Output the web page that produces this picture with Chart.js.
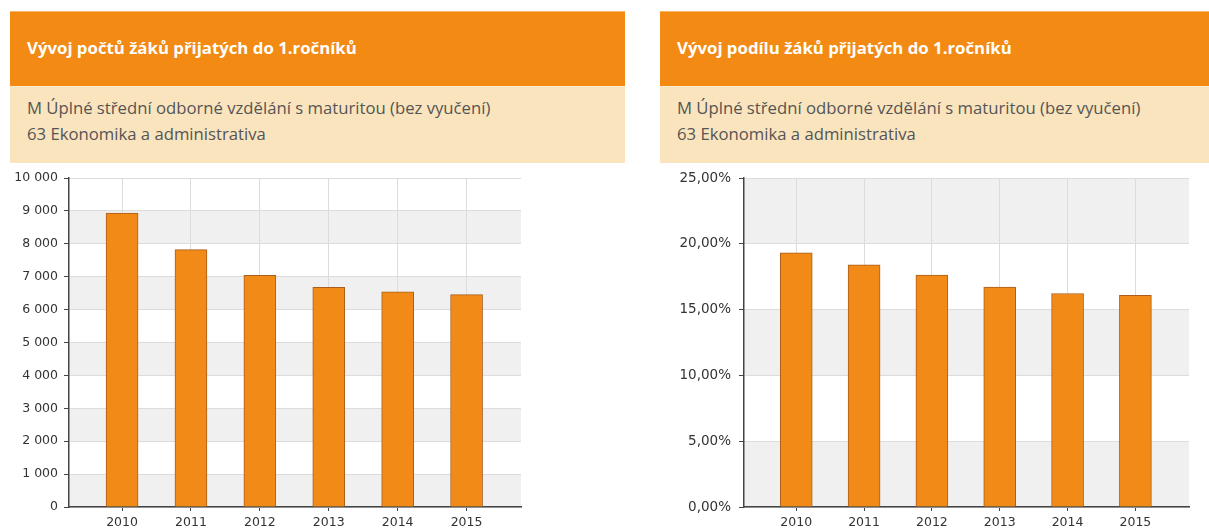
<!DOCTYPE html>
<html>
<head>
<meta charset="utf-8">
<script src="https://cdn.jsdelivr.net/npm/chart.js@4.4.1/dist/chart.umd.min.js"></script>
<style>
  html, body { margin: 0; padding: 0; background: #fff; width: 1209px; height: 530px; overflow: hidden; position: relative; }
  .hdr { position: absolute; top: 11px; height: 75px; background: #F28A13; border-top: 1px solid #F6B56A; box-sizing: border-box; }
  .hdr span { position: absolute; left: 17px; top: 24px; font-family: "Open Sans", sans-serif; font-weight: 700; font-size: 16.8px; color: #fff; white-space: nowrap; }
  .sub { position: absolute; top: 86px; height: 77px; background: #FAE4BD; border-top: 1px solid #FCEBD2; box-sizing: border-box; }
  .sub div { position: absolute; left: 17px; font-family: "Open Sans", sans-serif; font-size: 16.7px; color: #555; white-space: nowrap; }
  .cv { position: absolute; top: 162px; height: 368px; }
</style>
</head>
<body>
<div class="hdr" style="left:10px;width:615px"><span>Vývoj počtů žáků přijatých do 1.ročníků</span></div>
<div class="sub" style="left:10px;width:615px"><div style="top:9px">M Úplné střední odborné vzdělání s maturitou (bez vyučení)</div><div style="top:35px">63 Ekonomika a administrativa</div></div>
<div class="hdr" style="left:660px;width:615px"><span>Vývoj podílu žáků přijatých do 1.ročníků</span></div>
<div class="sub" style="left:660px;width:615px"><div style="top:9px">M Úplné střední odborné vzdělání s maturitou (bez vyučení)</div><div style="top:35px">63 Ekonomika a administrativa</div></div>
<div class="cv" style="left:0;width:640px"><canvas id="c1" width="640" height="368"></canvas></div>
<div class="cv" style="left:640px;width:569px"><canvas id="c2" width="569" height="368"></canvas></div>
<script>
const years = [2010, 2011, 2012, 2013, 2014, 2015];
const counts = [8935, 7825, 7045, 6680, 6540, 6455];
const shares = [19.32, 18.40, 17.62, 16.71, 16.23, 16.08];
const countTicks = [0, 1000, 2000, 3000, 4000, 5000, 6000, 7000, 8000, 9000, 10000];
const shareTicks = [0, 5, 10, 15, 20, 25];

const bandPlugin = {
  id: 'bands',
  beforeDraw(chart) {
    const { ctx, chartArea, scales } = chart;
    const y = scales.y;
    const tv = y.ticks.map(t => t.value);
    ctx.save();
    ctx.fillStyle = '#F0F0F0';
    for (let i = 0; i < tv.length - 1; i += 2) {
      const y0 = y.getPixelForValue(tv[i]);
      const y1 = y.getPixelForValue(tv[i + 1]);
      ctx.fillRect(chartArea.left, y1, chartArea.right - chartArea.left, y0 - y1);
    }
    ctx.restore();
  }
};

function makeChart(id, values, ticks, yMax, fmt, yWidth, padRight, labelPad, ySize) {
  return new Chart(document.getElementById(id), {
    type: 'bar',
    data: {
      datasets: [{
        data: years.map((yr, i) => ({ x: yr, y: values[i] })),
        backgroundColor: '#F28A18',
        borderColor: '#A95E1C',
        borderWidth: 1,
        borderSkipped: 'bottom',
        barThickness: 32
      }]
    },
    options: {
      responsive: false,
      animation: false,
      events: [],
      layout: { padding: { top: 16, left: 0, right: padRight, bottom: 0 } },
      plugins: { legend: { display: false }, tooltip: { enabled: false } },
      scales: {
        x: {
          type: 'linear',
          offset: false,
          min: 2009.23,
          max: 2015.79,
          afterBuildTicks: s => { s.ticks = years.map(v => ({ value: v })); },
          afterFit: s => { s.height = 23; },
          grid: { offset: false, color: '#DCDCDC', tickColor: '#444', tickLength: 4, drawOnChartArea: true },
          border: { color: '#444', width: 1.5 },
          ticks: { color: '#333', font: { family: 'DejaVu Sans', size: 12.5 }, padding: 4, callback: v => String(v) }
        },
        y: {
          min: 0,
          max: yMax,
          afterBuildTicks: s => { s.ticks = ticks.map(v => ({ value: v })); },
          afterFit: s => { s.width = yWidth; },
          grid: { color: '#DCDCDC', tickColor: '#444', tickLength: 5 },
          border: { color: '#444', width: 1.5 },
          ticks: { color: '#333', font: { family: 'DejaVu Sans', size: ySize }, padding: labelPad, callback: fmt }
        }
      }
    },
    plugins: [bandPlugin]
  });
}

makeChart('c1', counts, countTicks, 10000,
  v => String(v).replace(/\B(?=(\d{3})+(?!\d))/g, ' '), 69, 119, 6, 12.5);
makeChart('c2', shares, shareTicks, 25,
  v => v.toFixed(2).replace('.', ',') + '%', 104, 20, 8, 13.5);
</script>
</body>
</html>
